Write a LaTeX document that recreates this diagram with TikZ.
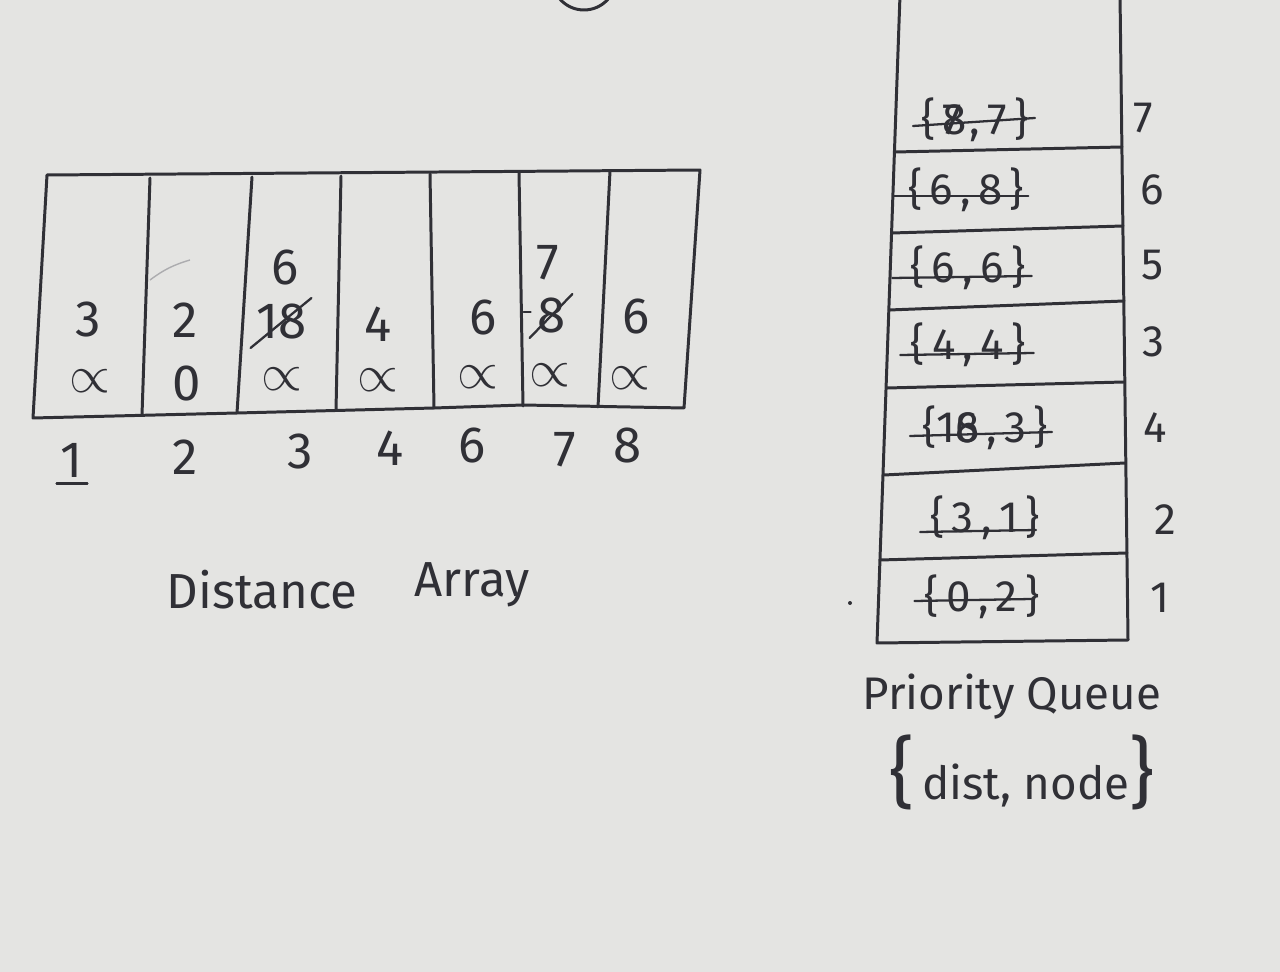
\documentclass[tikz,border=0pt]{standalone}
\usepackage{fontspec}
\usepackage{graphicx}
\setmainfont{Fira Sans}
\definecolor{paper}{RGB}{228,228,226}
\definecolor{ink}{RGB}{48,48,54}
\newcommand{\infsign}{\scalebox{1.2}{$\propto$}}
\tikzset{
  pen/.style={draw=ink, line width=1.7pt, line join=round, line cap=round},
  strike/.style={draw=ink, line width=1.3pt, line cap=round},
  digit/.style={text=ink, inner sep=0pt, font=\fontsize{29}{32}\selectfont},
  infty/.style={text=ink, inner sep=0pt, font=\fontsize{24}{26}\selectfont},
  entry/.style={text=ink, inner sep=0pt, font=\fontsize{25}{28}\selectfont},
  label/.style={text=ink, inner sep=0pt, font=\fontsize{28}{32}\selectfont},
}
\begin{document}
\begin{tikzpicture}[x=0.02cm,y=-0.02cm]
  \fill[paper] (0,0) rectangle (1280,972);
  \useasboundingbox (0,0) rectangle (1280,972);
  \begin{scope}
    \clip (0,0) rectangle (1280,972);
    % distance array
    \draw[pen] (47,175) -- (700,170) -- (684,408) -- (523,405) -- (434,408)
      -- (237,413) -- (33,418) -- cycle;
    \draw[pen] (150,178) -- (142,415);
    \draw[pen] (252,177) -- (237,413);
    \draw[pen] (341,176) -- (336,410);
    \draw[pen] (430,174) -- (434,408);
    \draw[pen] (519,173) -- (523,406);
    \draw[pen] (610,171) -- (598,407);
    \draw[ink!40, line width=0.8pt] (150,280) to[bend left=10] (190,260);
    \draw
      (88,320) node[digit] (top1){3}
      (90,381) node[infty] (inf1){\infsign}
      (185,320) node[digit] (top2){2}
      (187,384) node[digit] (inf2){0}
      (285,268) node[digit] (new3){6}
      (282,322) node[digit] (old3){18}
      (282,379) node[infty] (inf3){\infsign}
      (378,324) node[digit] (top4){4}
      (378,380) node[infty] (inf4){\infsign}
      (483,318) node[digit] (top6){6}
      (478,377) node[infty] (inf6){\infsign}
      (548,263) node[digit] (new7){7}
      (552,316) node[digit] (old7){8}
      (550,375) node[infty] (inf7){\infsign}
      (636,317) node[digit] (top8){6}
      (630,378) node[infty] (inf8){\infsign};
    \draw[strike] ([shift={(-6,8)}]old3.south west) -- ([shift={(4,-6)}]old3.north east);
    \draw[strike] ([shift={(-8,4)}]old7.south west) -- ([shift={(6,-4)}]old7.north east);
    \draw[strike] ([shift={(-14,-4)}]old7.west) -- ([shift={(-7,-4)}]old7.west);
    % indices
    \draw
      (72,460) node[digit] (idx1){1}
      (185,457) node[digit] (idx2){2}
      (300,452) node[digit] (idx3){3}
      (390,448) node[digit] (idx4){4}
      (472,446) node[digit] (idx6){6}
      (565,450) node[digit] (idx7){7}
      (628,446) node[digit] (idx8){8};
    \draw[strike] ([shift={(-4,6)}]idx1.south west) -- ([shift={(4,6)}]idx1.south east);
    \node[label] (dist) at (262,590) {Distance};
    \node[label] (arr) at (472,585) {Array};
    % priority queue
    \draw[pen] (900,-5) -- (877,643) -- (1128,640) -- (1120,-5);
    \draw[pen] (895,152) -- (1122,147);
    \draw[pen] (892,233) -- (1123,226);
    \draw[pen] (889,310) -- (1124,301);
    \draw[pen] (887,388) -- (1124,382);
    \draw[pen] (884,475) -- (1125,463);
    \draw[pen] (880,560) -- (1127,553);
    \draw
      (975,120) node[entry] (q7){\{\,\rlap{8}7\,,\,7\,\}}
      (966,190) node[entry] (q6){\{\,6\,,\,8\,\}}
      (968,268) node[entry] (q5){\{\,6\,,\,6\,\}}
      (968,345) node[entry] (q3){\{\,4\,,\,4\,\}}
      (985,428) node[entry] (q4){\{1\rlap{8}6\,,\,3\,\}}
      (985,518) node[entry] (q2){\{\,3\,,\,1\,\}}
      (982,597) node[entry] (q1){\{\,0\,,\,2\,\}};
    \draw[strike] ([shift={(-8,6)}]q7.west) -- ([shift={(6,-2)}]q7.east);
    \draw[strike] ([shift={(-14,6)}]q6.west) -- ([shift={(4,6)}]q6.east);
    \draw[strike] ([shift={(-18,10)}]q5.west) -- ([shift={(6,8)}]q5.east);
    \draw[strike] ([shift={(-10,10)}]q3.west) -- ([shift={(8,8)}]q3.east);
    \draw[strike] ([shift={(-12,8)}]q4.west) -- ([shift={(4,4)}]q4.east);
    \draw[strike] ([shift={(-10,14)}]q2.west) -- ([shift={(-4,12)}]q2.east);
    \draw[strike] ([shift={(-10,4)}]q1.west) -- ([shift={(-8,2)}]q1.east);
    \draw
      (1143,118) node[entry] (p7){7}
      (1152,190) node[entry] (p6){6}
      (1152,265) node[entry] (p5){5}
      (1153,342) node[entry] (p3){3}
      (1155,428) node[entry] (p4){4}
      (1165,520) node[entry] (p2){2}
      (1160,598) node[entry] (p1){1};
    \fill[ink] (850,603) circle (2);
    \node[label, font=\fontsize{26}{30}\selectfont] (pq) at (1012,697) {Priority Queue};
    \node[label, font=\fontsize{26}{30}\selectfont] (fmt) at (1022,772)
      {{\fontsize{44}{44}\selectfont\{}\,dist,\ node{\fontsize{44}{44}\selectfont\}}};
    % circle cut by the top edge
    \draw[pen] (584,-22) circle (32);
  \end{scope}
\end{tikzpicture}
\end{document}
